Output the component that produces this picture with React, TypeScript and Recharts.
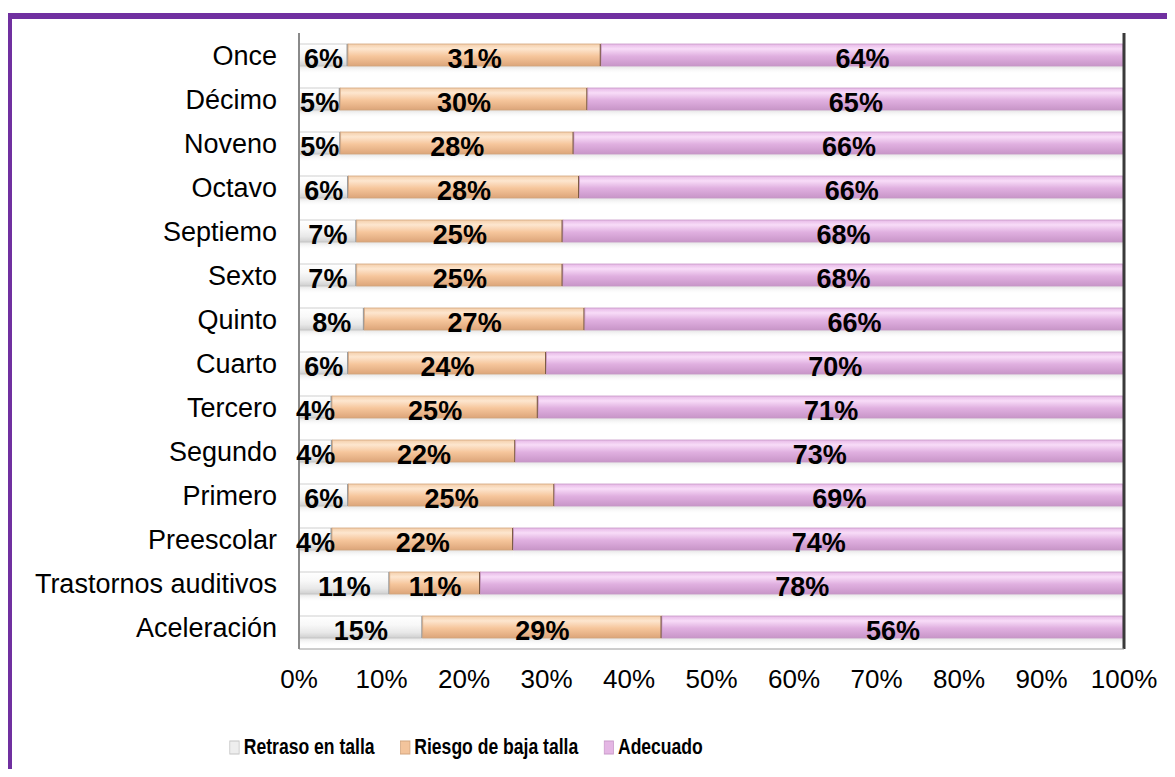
import { BarChart, Bar, XAxis, YAxis, LabelList, Legend, ReferenceLine } from 'recharts';

const categories = [
  'Once', 'Décimo', 'Noveno', 'Octavo', 'Septiemo', 'Sexto', 'Quinto',
  'Cuarto', 'Tercero', 'Segundo', 'Primero', 'Preescolar',
  'Trastornos auditivos', 'Aceleración',
];
const retraso = [6, 5, 5, 6, 7, 7, 8, 6, 4, 4, 6, 4, 11, 15];
const riesgo = [31, 30, 28, 28, 25, 25, 27, 24, 25, 22, 25, 22, 11, 29];
const adecuado = [64, 65, 66, 66, 68, 68, 66, 70, 71, 73, 69, 74, 78, 56];
const xTicks = [0, 0.1, 0.2, 0.3, 0.4, 0.5, 0.6, 0.7, 0.8, 0.9, 1];

const series = [
  { key: 'retraso', name: 'Retraso en talla', fill: 'url(#gRetraso)', stroke: '#c4c4c4', edge: '#9c9c9c', legendFill: '#eeeeee' },
  { key: 'riesgo', name: 'Riesgo de baja talla', fill: 'url(#gRiesgo)', stroke: '#d3a57e', edge: '#7d5c44', legendFill: '#f3c49c' },
  { key: 'adecuado', name: 'Adecuado', fill: 'url(#gAdecuado)', stroke: '#c99ac9', edge: '#c99ac9', legendFill: '#e4b6e4' },
];

// each row is drawn as shares of its own total (100% stacked)
const data = categories.map((name, i) => {
  const total = retraso[i] + riesgo[i] + adecuado[i];
  return {
    name,
    retraso: retraso[i],
    riesgo: riesgo[i],
    adecuado: adecuado[i],
    retrasoP: retraso[i] / total,
    riesgoP: riesgo[i] / total,
    adecuadoP: adecuado[i] / total,
  };
});

const font = '"Liberation Sans", Arial, sans-serif';

// bar segment with a soft shadow under it and a darker end edge, like the 3D Excel bars
const makeShape = (edge: string) => (props: any) => {
  const { x, y, width, height, fill, stroke } = props;
  if (!width || width <= 0) return <g />;
  return (
    <g>
      <rect x={x} y={y + height} width={width} height={8} fill="url(#gShadow)" />
      <rect x={x} y={y} width={width} height={height} fill={fill} stroke={stroke} strokeWidth={0.8} />
      <rect x={x + width - 1.5} y={y} width={1.5} height={height} fill={edge} />
    </g>
  );
};

function renderLegend() {
  return (
    <div style={{ display: 'flex', alignItems: 'center', height: 40, fontFamily: font, fontWeight: 'bold', fontSize: 22.5, color: '#000', whiteSpace: 'nowrap', transform: 'scaleX(0.78)', transformOrigin: 'left center' }}>
      {series.map((s, i) => (
        <div key={s.key} style={{ display: 'flex', alignItems: 'center', marginRight: i < 2 ? 32 : 0 }}>
          <svg width={16} height={16} style={{ marginRight: 3 }}>
            <rect x={1} y={2} width={12} height={13} fill={s.legendFill} stroke={s.stroke} strokeWidth={1} />
          </svg>
          <span>{s.name}</span>
        </div>
      ))}
    </div>
  );
}

export default function App() {
  return (
    <div style={{ position: 'relative', width: 1175, height: 777, margin: -8, overflow: 'hidden', background: '#fff' }}>
      <div style={{ position: 'absolute', left: 6, top: 13, width: 1300, height: 900, borderTop: '6px solid #7030a0', borderLeft: '6px solid #7030a0' }} />
      <div style={{ position: 'absolute', left: 0, top: 0 }}>
        <BarChart
          width={1175}
          height={777}
          data={data}
          layout="vertical"
          barSize={22}
          margin={{ top: 33, right: 51, left: 0, bottom: 0 }}
        >
          <defs>
            <linearGradient id="gRetraso" x1="0" y1="0" x2="0" y2="1">
              <stop offset="0%" stopColor="#ffffff" />
              <stop offset="40%" stopColor="#f8f8f8" />
              <stop offset="75%" stopColor="#e8e8e8" />
              <stop offset="100%" stopColor="#cfcfcf" />
            </linearGradient>
            <linearGradient id="gRiesgo" x1="0" y1="0" x2="0" y2="1">
              <stop offset="0%" stopColor="#f4cfab" />
              <stop offset="22%" stopColor="#fde6cf" />
              <stop offset="55%" stopColor="#f6c69c" />
              <stop offset="100%" stopColor="#dca579" />
            </linearGradient>
            <linearGradient id="gAdecuado" x1="0" y1="0" x2="0" y2="1">
              <stop offset="0%" stopColor="#e6b8e6" />
              <stop offset="22%" stopColor="#f8dcf8" />
              <stop offset="55%" stopColor="#e0b0e0" />
              <stop offset="100%" stopColor="#c895c8" />
            </linearGradient>
            <linearGradient id="gShadow" x1="0" y1="0" x2="0" y2="1">
              <stop offset="0%" stopColor="#dcdcdc" stopOpacity={0.8} />
              <stop offset="100%" stopColor="#ffffff" stopOpacity={0} />
            </linearGradient>
          </defs>
          <XAxis
            type="number"
            domain={[0, 1]}
            allowDataOverflow
            ticks={xTicks}
            tickFormatter={(v: number) => `${Math.round(v * 100)}%`}
            height={88}
            tickLine={false}
            tickSize={0}
            tickMargin={21}
            axisLine={{ stroke: '#9a9a9a' }}
            tick={{ fill: '#000', fontSize: 26, fontFamily: font }}
            interval={0}
          />
          <YAxis
            type="category"
            dataKey="name"
            width={299}
            tickLine={false}
            tickSize={0}
            tickMargin={22}
            axisLine={{ stroke: '#8a8a8a', strokeWidth: 2 }}
            tick={{ fill: '#000', fontSize: 27, fontFamily: font }}
            interval={0}
          />
          <Legend
            verticalAlign="bottom"
            content={renderLegend}
            wrapperStyle={{ left: 229, top: 727, width: 'auto' }}
          />
          {series.map((s) => (
            <Bar
              key={s.key}
              dataKey={s.key + 'P'}
              name={s.name}
              stackId="a"
              fill={s.fill}
              stroke={s.stroke}
              shape={makeShape(s.edge)}
              isAnimationActive={false}
            >
              <LabelList
                dataKey={s.key}
                position="center"
                formatter={(v: any) => `${v}%`}
                fill="#000"
                fontSize={27}
                fontWeight="bold"
                fontFamily={font}
                dy={3}
              />
            </Bar>
          ))}
          <ReferenceLine x={1} stroke="#3a3a3a" strokeWidth={3} ifOverflow="visible" />
        </BarChart>
      </div>
    </div>
  );
}
